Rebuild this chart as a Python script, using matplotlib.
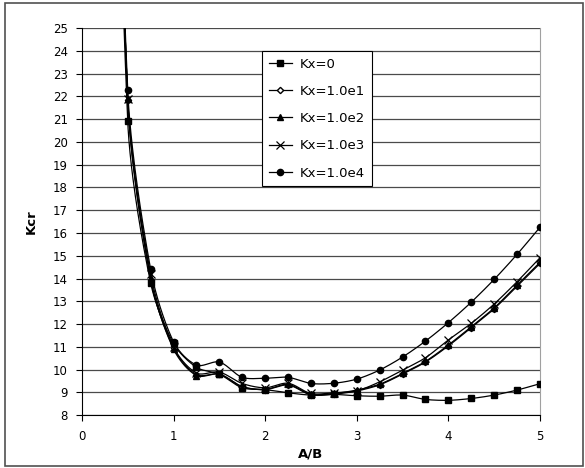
import matplotlib

matplotlib.use("Agg")
import matplotlib.pyplot as plt
import numpy as np
from matplotlib.lines import Line2D
from matplotlib.patches import Rectangle

plt.rcParams["font.family"] = ["DejaVu Sans"]

# aspect ratio A/B; the first point sits far above the axis limit
ratio = [0.25, 0.5, 0.75, 1.0, 1.25, 1.5, 1.75, 2.0, 2.25, 2.5, 2.75, 3.0,
         3.25, 3.5, 3.75, 4.0, 4.25, 4.5, 4.75, 5.0]

kx_0 = [60.0, 20.92, 13.81, 11.15, 10.10, 9.80, 9.20, 9.12, 8.98, 8.88, 8.91,
        8.85, 8.83, 8.88, 8.69, 8.65, 8.73, 8.88, 9.10, 9.38]
kx_1e1 = [60.0, 21.85, 13.95, 10.95, 9.78, 9.80, 9.25, 9.12, 9.32, 8.89, 8.92,
          9.06, 9.33, 9.80, 10.33, 11.04, 11.84, 12.67, 13.66, 14.66]
kx_1e2 = [60.0, 21.87, 14.00, 10.90, 9.74, 9.80, 9.25, 9.13, 9.35, 8.91, 8.95,
          9.10, 9.36, 9.83, 10.36, 11.08, 11.88, 12.71, 13.71, 14.71]
kx_1e3 = [60.0, 21.90, 14.20, 11.00, 9.85, 9.89, 9.39, 9.20, 9.40, 8.95, 8.98,
          9.07, 9.46, 9.98, 10.52, 11.30, 12.03, 12.88, 13.86, 14.91]
kx_1e4 = [60.0, 22.28, 14.41, 11.22, 10.20, 10.33, 9.66, 9.62, 9.66, 9.39, 9.40,
          9.58, 9.98, 10.55, 11.25, 12.06, 12.96, 13.96, 15.06, 16.25]

labels = ["Kx=0", "Kx=1.0e1", "Kx=1.0e2", "Kx=1.0e3", "Kx=1.0e4"]
series = [kx_0, kx_1e1, kx_1e2, kx_1e3, kx_1e4]
markers = [
    dict(marker="s", markersize=4.5, markerfacecolor="black"),
    dict(marker="D", markersize=3.2, markerfacecolor="white"),
    dict(marker="^", markersize=5, markerfacecolor="black"),
    dict(marker="x", markersize=5.5, markeredgewidth=0.9),
    dict(marker="o", markersize=4.5, markerfacecolor="black"),
]

XLIM = (0, 5)
YLIM = (8, 25)
AX_RECT = [0.140, 0.113, 0.783, 0.827]
FIG_W, FIG_H, DPI = 5.85, 4.68, 100


def smooth(x, y, sx, sy, tension=0.3, steps=40):
    # chord-scaled Bezier through the points, worked out in screen pixels
    p = np.column_stack([np.asarray(x, float) * sx, np.asarray(y, float) * sy])
    n = len(p)
    out = []
    for i in range(n - 1):
        a, b = p[i], p[i + 1]
        chord = np.linalg.norm(b - a)
        if i > 0:
            d = p[i + 1] - p[i - 1]
            c1 = a + d / np.linalg.norm(d) * chord * tension
        else:
            c1 = a + (b - a) * tension
        if i + 2 < n:
            d = p[i + 2] - p[i]
            c2 = b - d / np.linalg.norm(d) * chord * tension
        else:
            c2 = b - (b - a) * tension
        t = np.linspace(0, 1, steps)[:, None]
        seg = ((1 - t) ** 3 * a + 3 * (1 - t) ** 2 * t * c1
               + 3 * (1 - t) * t ** 2 * c2 + t ** 3 * b)
        out.append(seg if i == 0 else seg[1:])
    pts = np.vstack(out)
    return pts[:, 0] / sx, pts[:, 1] / sy


fig = plt.figure(figsize=(FIG_W, FIG_H), dpi=DPI)
ax = fig.add_axes(AX_RECT)

# pixels per data unit, so the curve bends the same way on screen
px_x = AX_RECT[2] * FIG_W * DPI / (XLIM[1] - XLIM[0])
px_y = AX_RECT[3] * FIG_H * DPI / (YLIM[1] - YLIM[0])

for vals, label, mk in zip(series, labels, markers):
    cx, cy = smooth(ratio, vals, px_x, px_y)
    ax.plot(cx, cy, color="black", linewidth=0.9, zorder=3)
    ax.plot(ratio, vals, linestyle="none", color="black", zorder=4, **mk)

ax.set_xlim(*XLIM)
ax.set_ylim(*YLIM)
ax.set_xticks(range(0, 6))
ax.set_yticks(range(8, 26))
ax.yaxis.grid(True, color="#4a4a4a", linewidth=0.9)
ax.set_axisbelow(True)
ax.tick_params(axis="both", labelsize=8.5, length=4, width=0.8, color="black")
ax.tick_params(axis="y", pad=6)
ax.tick_params(axis="x", pad=7)
ax.spines["left"].set_color("black")
ax.spines["bottom"].set_color("black")
ax.spines["right"].set_color("#a0a0a0")
ax.spines["top"].set_visible(False)
ax.set_xlabel("A/B", fontsize=9.5, fontweight="bold", labelpad=3)
ax.set_ylabel("Kcr", fontsize=9.5, fontweight="bold", labelpad=11)

handles = [Line2D([], [], color="black", linewidth=0.9, **mk) for mk in markers]
leg = ax.legend(handles, labels, loc="upper left", bbox_to_anchor=(0.393, 0.941),
                prop={"size": 9.5}, frameon=True, fancybox=False, edgecolor="black",
                framealpha=1, handlelength=1.8, handletextpad=0.6,
                labelspacing=1.08, borderpad=0.5, borderaxespad=0)
leg.get_frame().set_linewidth(0.8)

fig.patches.append(Rectangle((0.008, 0.004), 0.988, 0.99, transform=fig.transFigure,
                             fill=False, edgecolor="#505050", linewidth=1.2))

fig.savefig("out.png", dpi=DPI)
